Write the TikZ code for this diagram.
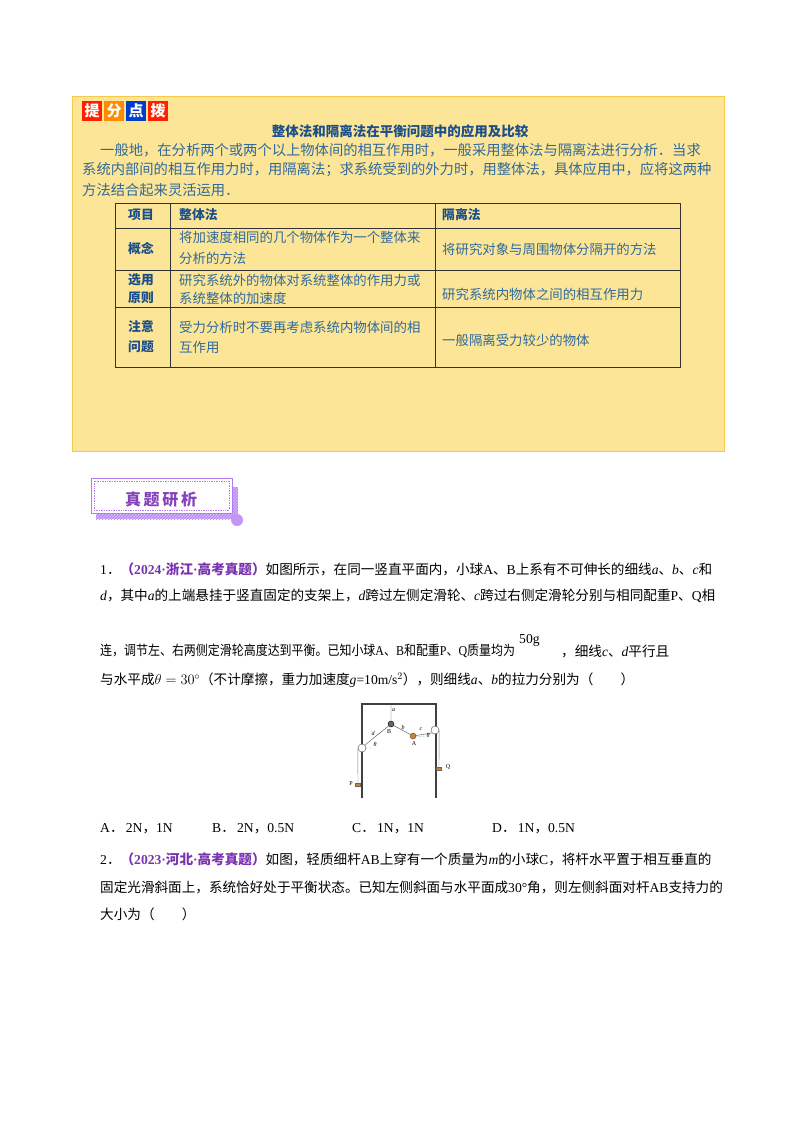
\documentclass[tikz,border=0pt]{standalone}
\usepackage{fontspec}
\setmainfont{Noto Sans CJK SC}
\newfontfamily\ls{Liberation Serif}
\usetikzlibrary{patterns}
\definecolor{boxfill}{HTML}{FCE596}
\definecolor{boxline}{HTML}{F6C94A}
\definecolor{btext}{HTML}{2F6A9E}
\definecolor{ttext}{HTML}{1B4F8A}
\definecolor{qpurp}{HTML}{7A33B0}
\definecolor{lpurp}{HTML}{B47CF0}
\tikzset{
 tl/.style={anchor=west,inner sep=0pt,font=\fontsize{13.4}{13.4}\selectfont,text=btext},
 pl/.style={anchor=west,inner sep=0pt,font=\fontsize{14.3}{14.3}\selectfont,text=btext},
 th/.style={anchor=west,inner sep=0pt,font=\fontsize{12.8}{12.8}\selectfont\bfseries,text=ttext},
 ql/.style={anchor=west,inner sep=0pt,font=\fontsize{13.6}{13.6}\selectfont},
 bdg/.style={minimum size=20pt,inner sep=0pt,text=white,font=\fontsize{15}{15}\selectfont\bfseries},
 fig/.style={inner sep=0pt,font=\ls\fontsize{6}{6}\selectfont},
}
\begin{document}
\begin{tikzpicture}[x=1pt,y=-1pt]
\useasboundingbox (0,0) rectangle (800,1132);
\fill[white] (0,0) rectangle (800,1132);
% top box
\draw[boxline,fill=boxfill,line width=1pt] (72,96) rectangle (724,451);
\node[bdg,fill=red!75!orange] (b1) at (92,111) {提};
\node[bdg,fill=orange!90!yellow] (b2) at (114,111) {分};
\node[bdg,fill=blue!70!cyan!80!black] (b3) at (136,111) {点};
\node[bdg,fill=red!75!orange] (b4) at (158,111) {拨};
\node[inner sep=0pt,font=\fontsize{13.5}{13.5}\selectfont\bfseries,text=ttext] (title) at (400,131) {整体法和隔离法在平衡问题中的应用及比较};
\node[pl] (p1) at (100,150) {一般地，在分析两个或两个以上物体间的相互作用时，一般采用整体法与隔离法进行分析．当求};
\node[pl] (p2) at (82,170) {系统内部间的相互作用力时，用隔离法；求系统受到的外力时，用整体法，具体应用中，应将这两种};
\node[pl] (p3) at (82,190) {方法结合起来灵活运用．};
% table
\draw[line width=1pt,black!80] (115,203) rectangle (680,367);
\foreach \y in {228,270,307} \draw[line width=0.8pt,black!80] (115,\y) -- (680,\y);
\draw[line width=0.8pt,black!80] (170,203) -- (170,367) (435,203) -- (435,367);
\node[th] (h1) at (128,215) {项目};
\node[th] (h2) at (179,215) {整体法};
\node[th] (h3) at (442,215) {隔离法};
\node[th] (r1) at (128,249) {概念};
\node[th] (r2a) at (128,280) {选用};
\node[th] (r2b) at (128,298) {原则};
\node[th] (r3a) at (128,327) {注意};
\node[th] (r3b) at (128,347) {问题};
\node[tl] (c11) at (179,237) {将加速度相同的几个物体作为一个整体来};
\node[tl] (c12) at (179,258) {分析的方法};
\node[tl] (c13) at (442,249) {将研究对象与周围物体分隔开的方法};
\node[tl] (c21) at (179,280) {研究系统外的物体对系统整体的作用力或};
\node[tl] (c22) at (179,298) {系统整体的加速度};
\node[tl] (c23) at (442,294) {研究系统内物体之间的相互作用力};
\node[tl] (c31) at (179,327) {受力分析时不要再考虑系统内物体间的相};
\node[tl] (c32) at (179,347) {互作用};
\node[tl] (c33) at (442,340) {一般隔离受力较少的物体};
% badge
\fill[lpurp!60] (96,487) -- (238,487) -- (238,519) -- (96,519) -- cycle;
\fill[pattern=north east lines,pattern color=lpurp] (96,487) rectangle (238,519);
\draw[lpurp,fill=white,line width=0.8pt] (91,478) rectangle (232,513);
\draw[lpurp,densely dotted,line width=0.7pt] (94,481) rectangle (229,510);
\fill[lpurp!80] (237,520) circle (6);
\node[inner sep=0pt,font=\fontsize{16}{16}\selectfont\bfseries,text=qpurp!80!lpurp] (bt) at (161,499) {真\,题\,研\,析};
% question 1
\node[ql] (q1a) at (100,569) {{\ls 1}．\textcolor{qpurp}{\bfseries（{\ls 2024·}浙江{\ls ·}高考真题）}如图所示，在同一竖直平面内，小球{\ls A}、{\ls B}上系有不可伸长的细线{\ls\itshape a}、{\ls\itshape b}、{\ls\itshape c}和};
\node[ql] (q1b) at (100,596) {{\ls\itshape d}，其中{\ls\itshape a}的上端悬挂于竖直固定的支架上，{\ls\itshape d}跨过左侧定滑轮、{\ls\itshape c}跨过右侧定滑轮分别与相同配重{\ls P}、{\ls Q}相};
\node[ql] (q1c) at (100,651) {\scalebox{0.88}[1]{连，调节左、右两侧定滑轮高度达到平衡。已知小球{\ls A}、{\ls B}和配重{\ls P}、{\ls Q}质量均为}};
\node[ql] (g50) at (519,640) {\ls 50g};
\node[ql] (q1c2) at (561,651) {，细线{\ls\itshape c}、{\ls\itshape d}平行且};
\node[ql] (q1d) at (100,680) {与水平成{\ls$\theta=30^\circ$}（不计摩擦，重力加速度{\ls\itshape g}{\ls =10m/s$^2$}），则细线{\ls\itshape a}、{\ls\itshape b}的拉力分别为（\qquad）};
% figure
\draw[black!75,line width=1.2pt] (362,798) -- (362,704) -- (436,704) -- (436,798);
\coordinate (top) at (391,704);
\node[circle,fill=black!60,draw=black,minimum size=6pt,inner sep=0pt] (B) at (391,724) {};
\node[circle,fill=brown!70!orange,draw=black!70,minimum size=6pt,inner sep=0pt] (A) at (413,736) {};
\node[circle,draw=black!70,fill=white,minimum size=8pt,inner sep=0pt] (L) at (362,748) {};
\node[circle,draw=black!70,fill=white,minimum size=8pt,inner sep=0pt] (R) at (435,730) {};
\node[fill=brown!60!orange,draw=black!60,minimum width=5pt,minimum height=3pt,inner sep=0pt] (P) at (358,785) {};
\node[fill=brown!60!orange,draw=black!60,minimum width=5pt,minimum height=3pt,inner sep=0pt] (Q) at (439,769) {};
\draw[black!70,line width=0.4pt] (top) -- (B) (B) -- (A) (B) -- (L.north east) (A) -- (R.south west);
\draw[black!50,line width=0.4pt] (L.west) -- (P.north) (R.east) -- (Q.north);
\draw[cyan!70!blue,densely dotted,line width=0.4pt] (L.east) -- (373,748) (A.east) -- (425,737);
\node[fig] (la) at (393.5,710) {\itshape a};
\node[fig] (ld) at (373,733) {\itshape d};
\node[fig] (lb) at (403,727) {\itshape b};
\node[fig] (lc) at (421,729) {\itshape c};
\node[fig] (lB) at (389,732) {B};
\node[fig] (lA) at (414,744) {A};
\node[fig] (lt1) at (375,744) {\itshape θ};
\node[fig] (lt2) at (428,735) {\itshape θ};
\node[fig] (lP) at (351,784) {P};
\node[fig] (lQ) at (448,767) {Q};
% options
\node[ql] (oA) at (100,829) {{\ls A}．\,{\ls 2N}，{\ls 1N}};
\node[ql] (oB) at (212,829) {{\ls B}．\,{\ls 2N}，{\ls 0.5N}};
\node[ql] (oC) at (352,829) {{\ls C}．\,{\ls 1N}，{\ls 1N}};
\node[ql] (oD) at (492,829) {{\ls D}．\,{\ls 1N}，{\ls 0.5N}};
% question 2
\node[ql] (q2a) at (100,859) {{\ls 2}．\textcolor{qpurp}{\bfseries（{\ls 2023·}河北{\ls ·}高考真题）}如图，轻质细杆{\ls AB}上穿有一个质量为{\ls\itshape m}的小球{\ls C}，将杆水平置于相互垂直的};
\node[ql] (q2b) at (100,887) {固定光滑斜面上，系统恰好处于平衡状态。已知左侧斜面与水平面成{\ls 30°}角，则左侧斜面对杆{\ls AB}支持力的};
\node[ql] (q2c) at (100,914) {大小为（\qquad）};
\end{tikzpicture}
\end{document}
